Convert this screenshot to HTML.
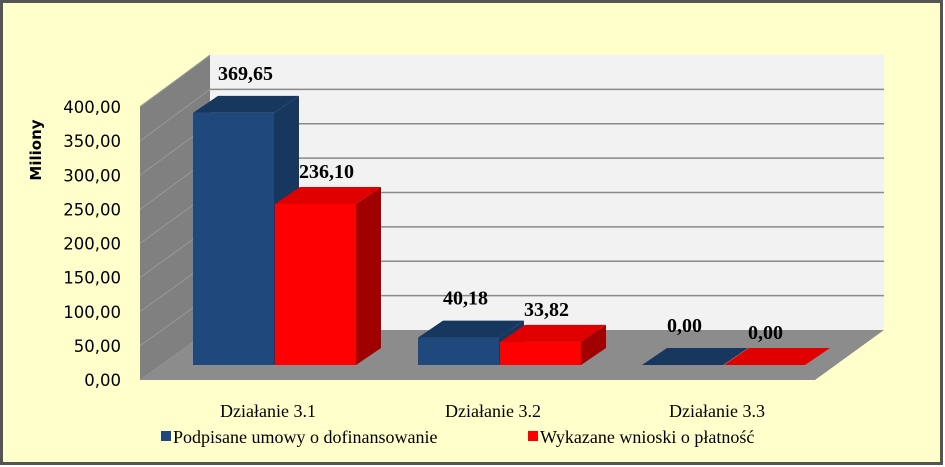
<!DOCTYPE html>
<html><head><meta charset="utf-8"><style>
body{margin:0;background:#fff}
svg{display:block}
</style></head><body>
<svg width="945" height="467" viewBox="0 0 945 467" id="c">
<rect x="1.5" y="1.5" width="940" height="462" fill="#FFFFCC" stroke="#555" stroke-width="3"/>
<polygon points="140,106 210,55 210,330 140,380" fill="#808080"/>
<rect x="210" y="55" width="674" height="275" fill="#F2F2F2"/>
<polygon points="140,380 210,330 884,330 815,380" fill="#8C8C8C"/>
<g id="grid"></g>
<g id="bars"></g>
<g id="labels"></g>
<text x="41" y="150" transform="rotate(-90 41 150)" text-anchor="middle" font-family="'DejaVu Sans',sans-serif" font-weight="bold" font-size="15">Miliony</text>
<g font-family="'Liberation Serif',serif" font-size="18">
<rect x="161" y="431" width="10" height="10" fill="#1F497D"/>
<text x="173" y="443">Podpisane umowy o dofinansowanie</text>
<rect x="528" y="431" width="10" height="10" fill="#FF0000"/>
<text x="540" y="443">Wykazane wnioski o płatność</text>
</g>
</svg>
<script>
const categories=["Działanie 3.1","Działanie 3.2","Działanie 3.3"];
const signedValues=[369.65,40.18,0.00];
const paymentValues=[236.10,33.82,0.00];
const tickValues=[0,50,100,150,200,250,300,350,400];
const tickLabels=["0,00","50,00","100,00","150,00","200,00","250,00","300,00","350,00","400,00"];
const NS="http://www.w3.org/2000/svg";
function mk(tag,attrs,parent,text){const e=document.createElementNS(NS,tag);for(const k in attrs)e.setAttribute(k,attrs[k]);if(text!==undefined)e.textContent=text;parent.appendChild(e);return e;}
const frontY=v=>380-v*0.6825;
const backY=v=>330-v*0.6875;
const barY=v=>365-v*0.682;
const grid=document.getElementById('grid'),bars=document.getElementById('bars'),labels=document.getElementById('labels');
tickValues.forEach((v,i)=>{
  if(v>0&&v<400){
    const g=mk('line',{x1:210,x2:884,y1:backY(v),y2:backY(v),stroke:'#8a8a8a','stroke-width':1.5},grid);
    
    
  }
  if(v>0){
    const s=mk('line',{x1:140,x2:210,y1:frontY(v),y2:backY(v),stroke:'#999','stroke-width':1},grid);
    
    
  }
  const t=mk('text',{x:121,y:frontY(v)+6,'text-anchor':'end','font-family':"'DejaVu Sans',sans-serif",'font-size':16.5},labels,tickLabels[i]);
  
  
});
const groupX=[193,418,642];const bw=81,dx=25,dy=-17;
function bar(x,v,front,top,side,name){
  const y=barY(v),b=365;
  const g=mk('g',{},bars);
  
  
  mk('polygon',{points:`${x+bw},${y} ${x+bw+dx},${y+dy} ${x+bw+dx},${b+dy} ${x+bw},${b}`,fill:side},g);
  mk('polygon',{points:`${x},${y} ${x+dx},${y+dy} ${x+bw+dx},${y+dy} ${x+bw},${y}`,fill:top},g);
  if(v>0.5) mk('rect',{x:x,y:y,width:bw,height:b-y,fill:front},g);
}
categories.forEach((c,i)=>{
  const x=groupX[i];
  bar(x,signedValues[i],'#1F497D','#17375E','#17375E','bar-signed-'+(i+1));
  bar(x+bw+1,paymentValues[i],'#FF0000','#E00000','#A00000','bar-payment-'+(i+1));
  const l1=mk('text',{x:x+dx,y:barY(signedValues[i])+dy-16,'font-family':"'Liberation Serif',serif",'font-weight':'bold','font-size':20},labels,signedValues[i].toFixed(2).replace('.',','));
  
  
  const l2=mk('text',{x:x+bw+dx,y:barY(paymentValues[i])+dy-9,'font-family':"'Liberation Serif',serif",'font-weight':'bold','font-size':20},labels,paymentValues[i].toFixed(2).replace('.',','));
  
  
  const cl=mk('text',{x:x+bw-6,y:417,'text-anchor':'middle','font-family':"'Liberation Serif',serif",'font-size':18},labels,c);
  
  
});
</script>
</body></html>
